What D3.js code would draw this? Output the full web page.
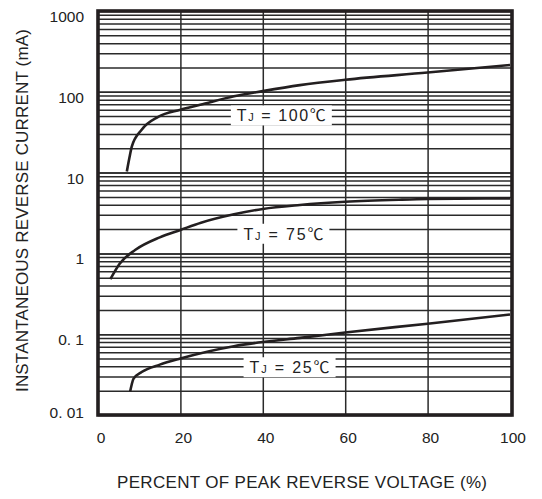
<!DOCTYPE html>
<html>
<head>
<meta charset="utf-8">
<script src="https://cdn.jsdelivr.net/npm/d3@7"></script>
<style>
  body { margin: 0; background: #fff; }
  svg { display: block; }
  .grid line { stroke: #2a2a2a; stroke-width: 1.5; }
  .grid path { display: none; }
  .curve { fill: none; stroke: #231f20; stroke-width: 2.6; }
  .tick-label { font-family: "Liberation Sans", Arial, sans-serif; font-size: 15.5px; fill: #222; }
  .axis-title { font-family: "Liberation Sans", Arial, sans-serif; font-size: 17px; fill: #222; }
  .curve-label { font-family: "Liberation Sans", "Noto Sans CJK SC", sans-serif; font-size: 16px; fill: #222; }
</style>
</head>
<body>
<div id="chart"></div>
<script>
var svgWidth = 542;
var svgHeight = 499;

// data: [percent of peak reverse voltage, current in mA]
var curve100 = [[7, 10.3], [7.6, 15], [8.2, 21], [10.6, 34], [14.6, 49], [20, 60], [24.8, 69],
    [33, 88], [40, 102], [49, 121], [60, 141], [80, 173], [100, 215]];
var curve75 = [[3, 0.48], [5.3, 0.75], [9, 1.1], [15, 1.58], [20, 1.95], [25, 2.4], [33, 3.05],
    [40, 3.55], [49, 3.97], [60, 4.35], [73, 4.62], [80, 4.72], [100, 4.8]];
var curve25 = [[7.8, 0.0195], [8.2, 0.024], [8.6, 0.028], [10.6, 0.034], [15, 0.042], [20, 0.05],
    [33, 0.071], [40, 0.08], [49, 0.09], [60, 0.105], [80, 0.135], [100, 0.175]];

var curveNames = ["100", "75", "25"];
var labelAnchors = [[44.5, 51], [45, 1.75], [46.5, 0.039]]; // label centre, in data units

var xTicks = [0, 20, 40, 60, 80, 100];
var yTicks = [0.01, 0.1, 1, 10, 100, 1000];
var yTickText = ["0. 01", "0. 1", "1", "10", "100", "1000"];

var plotLeft = 98, plotRight = 512, plotTop = 11, plotBottom = 415;

var x = d3.scaleLinear().domain([0, 100]).range([plotLeft, 510]);
var y = d3.scaleLog().domain([0.01, 1000]).range([plotBottom, plotTop]);

var svg = d3.select("#chart")
    .append("svg")
    .attr("width", svgWidth)
    .attr("height", svgHeight);

// horizontal grid: every 1..9 of each decade
var gridVals = [];
[0.01, 0.1, 1, 10, 100].forEach(d => {
    for (var k = 1; k <= 10; k++) gridVals.push(d * k);
});

svg.append("g")
    .attr("class", "grid")
    .attr("transform", `translate(${plotLeft}, 0)`)
    .call(d3.axisLeft(y).tickValues(gridVals).tickSize(-(plotRight - plotLeft)).tickFormat(""));

svg.append("g")
    .attr("class", "grid")
    .attr("transform", `translate(0, ${plotBottom})`)
    .call(d3.axisBottom(x).tickValues([20, 40, 60, 80]).tickSize(-(plotBottom - plotTop)).tickFormat(""));

// curves
var line = d3.line()
    .x(d => x(d[0]))
    .y(d => y(d[1]))
    .curve(d3.curveMonotoneX);

[curve100, curve75, curve25].forEach(c => {
    svg.append("path")
        .attr("class", "curve")
        .attr("d", line(c));
});

// curve labels with white boxes
var labelWidths = [89, 80, 80];
curveNames.forEach((name, i) => {
    var cx = x(labelAnchors[i][0]);
    var cy = y(labelAnchors[i][1]);
    var g = svg.append("g");
    g.append("rect")
        .attr("x", cx - labelWidths[i] / 2 - 6)
        .attr("y", cy - 10)
        .attr("width", labelWidths[i] + 12)
        .attr("height", 20)
        .attr("fill", "#fff");
    var t = g.append("text")
        .attr("class", "curve-label")
        .attr("x", cx - labelWidths[i] / 2)
        .attr("y", cy + 6)
        .attr("textLength", labelWidths[i])
        .attr("lengthAdjust", "spacing");
    t.append("tspan").text("T");
    t.append("tspan").attr("font-size", "11px").text("J");
    t.append("tspan").text(" = " + name + "℃");
});

// frame
svg.append("rect")
    .attr("x", plotLeft)
    .attr("y", plotTop)
    .attr("width", plotRight - plotLeft)
    .attr("height", plotBottom - plotTop)
    .attr("fill", "none")
    .attr("stroke", "#231f20")
    .attr("stroke-width", 3.6);

// tick labels
svg.selectAll(".ylab")
    .data(yTicks)
    .enter()
    .append("text")
    .attr("class", "tick-label")
    .attr("text-anchor", "end")
    .attr("x", 84)
    .attr("y", d => Math.min(y(d) + 6, 413) + 5)
    .text((d, i) => yTickText[i]);

svg.selectAll(".xlab")
    .data(xTicks)
    .enter()
    .append("text")
    .attr("class", "tick-label")
    .attr("text-anchor", "middle")
    .attr("x", d => x(d) + 3)
    .attr("y", 443)
    .text(d => d);

// axis titles
svg.append("text")
    .attr("class", "axis-title")
    .attr("transform", "translate(28, 392) rotate(-90)")
    .attr("textLength", 363)
    .attr("lengthAdjust", "spacing")
    .text("INSTANTANEOUS REVERSE CURRENT (mA)");

svg.append("text")
    .attr("class", "axis-title")
    .attr("x", 117)
    .attr("y", 488)
    .attr("textLength", 370)
    .attr("lengthAdjust", "spacing")
    .text("PERCENT OF PEAK REVERSE VOLTAGE (%)");
</script>
</body>
</html>
